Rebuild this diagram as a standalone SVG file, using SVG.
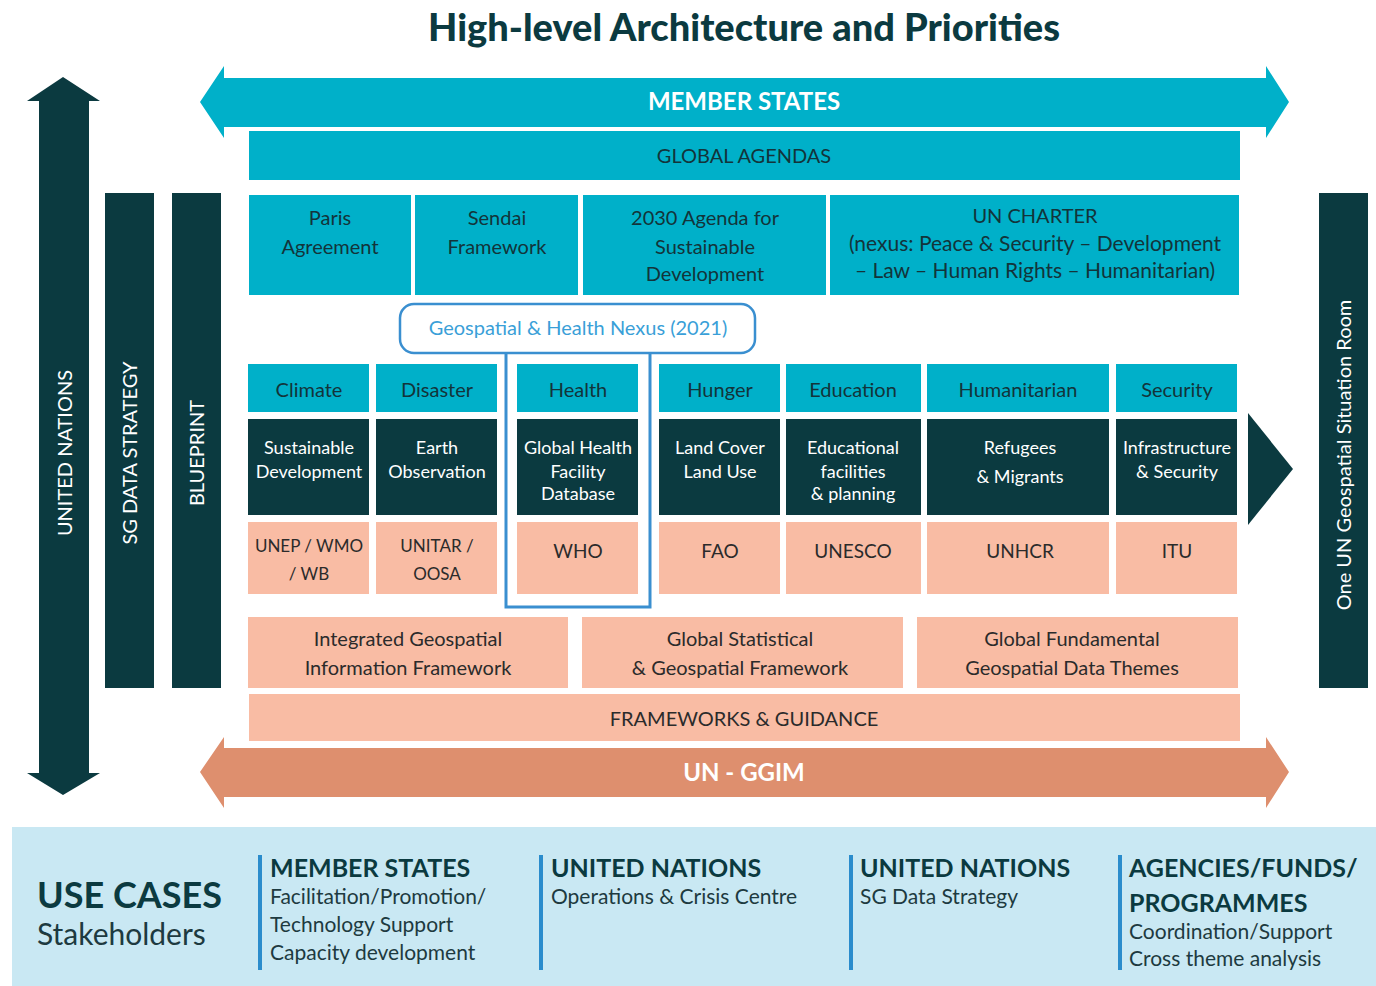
<svg xmlns="http://www.w3.org/2000/svg" width="1376" height="986" viewBox="0 0 1376 986">
<style>
text{font-family:Lato,"Open Sans","Liberation Sans",sans-serif;}
.teal{fill:#00b0c9;}
.dark{fill:#0b3a40;}
.salmon{fill:#f9bca4;}
.tk{fill:#13343a;font-size:20px;text-anchor:middle;}
.tw{fill:#ffffff;font-size:18px;text-anchor:middle;}
.ts{fill:#2b2b2b;font-size:19px;text-anchor:middle;}
.ts17{font-size:17px;}
.ts20{font-size:20px;}
.tk21{font-size:21px;}
.vt{fill:#ffffff;font-size:20px;text-anchor:middle;}
.uh{fill:#0b3a40;font-size:25px;font-weight:bold;}
.ub{fill:#1d3a40;font-size:21px;}
.ul{stroke:#2a8ccc;stroke-width:4;}
</style>
<rect width="1376" height="986" fill="#ffffff"/>
<text x="744" y="41" text-anchor="middle" font-size="38" font-weight="900" fill="#0b3a40">High-level Architecture and Priorities</text>

<g id="united-nations">
<polygon class="dark" points="63,77 100,101 89,101 89,773 100,773 63,795 27,773 39,773 39,101 27,101"/>
<text class="vt" transform="translate(72,453) rotate(-90)">UNITED NATIONS</text>
</g>
<g id="sg-data-strategy">
<rect class="dark" x="105" y="193" width="49" height="495"/>
<text class="vt" transform="translate(137,453) rotate(-90)">SG DATA STRATEGY</text>
</g>
<g id="blueprint">
<rect class="dark" x="172" y="193" width="49" height="495"/>
<text class="vt" transform="translate(204,453) rotate(-90)">BLUEPRINT</text>
</g>
<g id="situation-room">
<rect class="dark" x="1319" y="193" width="49" height="495"/>
<text class="vt" transform="translate(1351,455) rotate(-90)">One UN Geospatial Situation Room</text>
</g>

<g id="member-states">
<polygon class="teal" points="200,102 224,66 224,78 1266,78 1266,66 1289,102 1266,138 1266,127 224,127 224,138"/>
<text x="744" y="110" text-anchor="middle" font-size="24" font-weight="bold" fill="#ffffff">MEMBER STATES</text>
</g>
<g id="global-agendas">
<rect class="teal" x="249" y="131" width="991" height="49"/>
<text class="tk" x="744" y="163">GLOBAL AGENDAS</text>
</g>
<g id="paris"><rect class="teal" x="249" y="195" width="162" height="100"/>
<text class="tk" x="330" y="225">Paris</text><text class="tk" x="330" y="254">Agreement</text></g>
<g id="sendai"><rect class="teal" x="415" y="195" width="163" height="100"/>
<text class="tk" x="497" y="225">Sendai</text><text class="tk" x="497" y="254">Framework</text></g>
<g id="agenda2030"><rect class="teal" x="583" y="195" width="243" height="100"/>
<text class="tk" x="705" y="225">2030 Agenda for</text><text class="tk" x="705" y="254">Sustainable</text><text class="tk" x="705" y="281">Development</text></g>
<g id="un-charter"><rect class="teal" x="830" y="195" width="409" height="100"/>
<text class="tk" x="1035" y="223">UN CHARTER</text><text class="tk tk21" x="1035" y="251">(nexus: Peace &amp; Security – Development</text><text class="tk tk21" x="1035" y="278">– Law – Human Rights – Humanitarian)</text></g>

<g id="themes">
<g id="climate"><rect class="teal" x="248" y="364" width="121" height="48"/><text class="tk" x="309" y="397">Climate</text>
<rect class="dark" x="248" y="419" width="121" height="96"/><text class="tw" x="309" y="454">Sustainable</text><text class="tw" x="309" y="478">Development</text>
<rect class="salmon" x="248" y="522" width="121" height="72"/><text class="ts ts17" x="309" y="552">UNEP / WMO</text><text class="ts ts17" x="309" y="580">/ WB</text></g>
<g id="disaster"><rect class="teal" x="376" y="364" width="121" height="48"/><text class="tk" x="437" y="397">Disaster</text>
<rect class="dark" x="376" y="419" width="121" height="96"/><text class="tw" x="437" y="454">Earth</text><text class="tw" x="437" y="478">Observation</text>
<rect class="salmon" x="376" y="522" width="121" height="72"/><text class="ts ts17" x="437" y="552">UNITAR /</text><text class="ts ts17" x="437" y="580">OOSA</text></g>
<g id="health"><rect class="teal" x="517" y="364" width="121" height="48"/><text class="tk" x="578" y="397">Health</text>
<rect class="dark" x="517" y="419" width="121" height="96"/><text class="tw" x="578" y="454">Global Health</text><text class="tw" x="578" y="478">Facility</text><text class="tw" x="578" y="500">Database</text>
<rect class="salmon" x="517" y="522" width="121" height="72"/><text class="ts" x="578" y="558">WHO</text></g>
<g id="hunger"><rect class="teal" x="659" y="364" width="121" height="48"/><text class="tk" x="720" y="397">Hunger</text>
<rect class="dark" x="659" y="419" width="121" height="96"/><text class="tw" x="720" y="454">Land Cover</text><text class="tw" x="720" y="478">Land Use</text>
<rect class="salmon" x="659" y="522" width="121" height="72"/><text class="ts" x="720" y="558">FAO</text></g>
<g id="education"><rect class="teal" x="786" y="364" width="135" height="48"/><text class="tk" x="853" y="397">Education</text>
<rect class="dark" x="786" y="419" width="135" height="96"/><text class="tw" x="853" y="454">Educational</text><text class="tw" x="853" y="478">facilities</text><text class="tw" x="853" y="500">&amp; planning</text>
<rect class="salmon" x="786" y="522" width="135" height="72"/><text class="ts" x="853" y="558">UNESCO</text></g>
<g id="humanitarian"><rect class="teal" x="927" y="364" width="182" height="48"/><text class="tk" x="1018" y="397">Humanitarian</text>
<rect class="dark" x="927" y="419" width="182" height="96"/><text class="tw" x="1020" y="454">Refugees</text><text class="tw" x="1020" y="483">&amp; Migrants</text>
<rect class="salmon" x="927" y="522" width="182" height="72"/><text class="ts" x="1020" y="558">UNHCR</text></g>
<g id="security"><rect class="teal" x="1116" y="364" width="121" height="48"/><text class="tk" x="1177" y="397">Security</text>
<rect class="dark" x="1116" y="419" width="121" height="96"/><text class="tw" x="1177" y="454">Infrastructure</text><text class="tw" x="1177" y="478">&amp; Security</text>
<rect class="salmon" x="1116" y="522" width="121" height="72"/><text class="ts" x="1177" y="558">ITU</text></g>
</g>

<g id="connectors">
<polyline points="506,353 506,607 650,607 650,353" fill="none" stroke="#3a8fd0" stroke-width="3"/>
<polygon class="dark" points="1248,413 1293,469 1248,525"/>
</g>
<g id="nexus">
<rect x="400" y="304" width="355" height="49" rx="14" fill="#ffffff" stroke="#3a8fd0" stroke-width="2.5"/>
<text x="578" y="335" text-anchor="middle" font-size="20" fill="#3a9fd8">Geospatial &amp; Health Nexus (2021)</text>
</g>

<g id="igif"><rect class="salmon" x="248" y="617" width="320" height="71"/>
<text class="ts ts20" x="408" y="646">Integrated Geospatial</text><text class="ts ts20" x="408" y="675">Information Framework</text></g>
<g id="gsgf"><rect class="salmon" x="582" y="617" width="321" height="71"/>
<text class="ts ts20" x="740" y="646">Global Statistical</text><text class="ts ts20" x="740" y="675">&amp; Geospatial Framework</text></g>
<g id="gfgdt"><rect class="salmon" x="917" y="617" width="321" height="71"/>
<text class="ts ts20" x="1072" y="646">Global Fundamental</text><text class="ts ts20" x="1072" y="675">Geospatial Data Themes</text></g>
<g id="frameworks"><rect class="salmon" x="249" y="694" width="991" height="47"/>
<text class="ts ts20" x="744" y="726">FRAMEWORKS &amp; GUIDANCE</text></g>
<g id="un-ggim">
<polygon fill="#de8f6e" points="200,772 224,737 224,748 1266,748 1266,737 1289,772 1266,808 1266,797 224,797 224,808"/>
<text x="744" y="781" text-anchor="middle" font-size="24" font-weight="bold" fill="#ffffff">UN - GGIM</text>
</g>

<g id="use-cases">
<rect x="12" y="827" width="1364" height="159" fill="#c9e8f3"/>
<text x="37" y="908" font-size="36" font-weight="bold" fill="#0b3a40">USE CASES</text>
<text x="37" y="945" font-size="30" fill="#1d3a40">Stakeholders</text>
<line class="ul" x1="260" y1="855" x2="260" y2="970"/>
<line class="ul" x1="541" y1="855" x2="541" y2="970"/>
<line class="ul" x1="851" y1="855" x2="851" y2="970"/>
<line class="ul" x1="1120" y1="855" x2="1120" y2="970"/>
<text class="uh" x="270" y="877">MEMBER STATES</text>
<text class="ub" x="270" y="904">Facilitation/Promotion/</text>
<text class="ub" x="270" y="932">Technology Support</text>
<text class="ub" x="270" y="960">Capacity development</text>
<text class="uh" x="551" y="877">UNITED NATIONS</text>
<text class="ub" x="551" y="904">Operations &amp; Crisis Centre</text>
<text class="uh" x="860" y="877">UNITED NATIONS</text>
<text class="ub" x="860" y="904">SG Data Strategy</text>
<text class="uh" x="1129" y="877">AGENCIES/FUNDS/</text>
<text class="uh" x="1129" y="912">PROGRAMMES</text>
<text class="ub" x="1129" y="939">Coordination/Support</text>
<text class="ub" x="1129" y="966">Cross theme analysis</text>
</g>
</svg>
